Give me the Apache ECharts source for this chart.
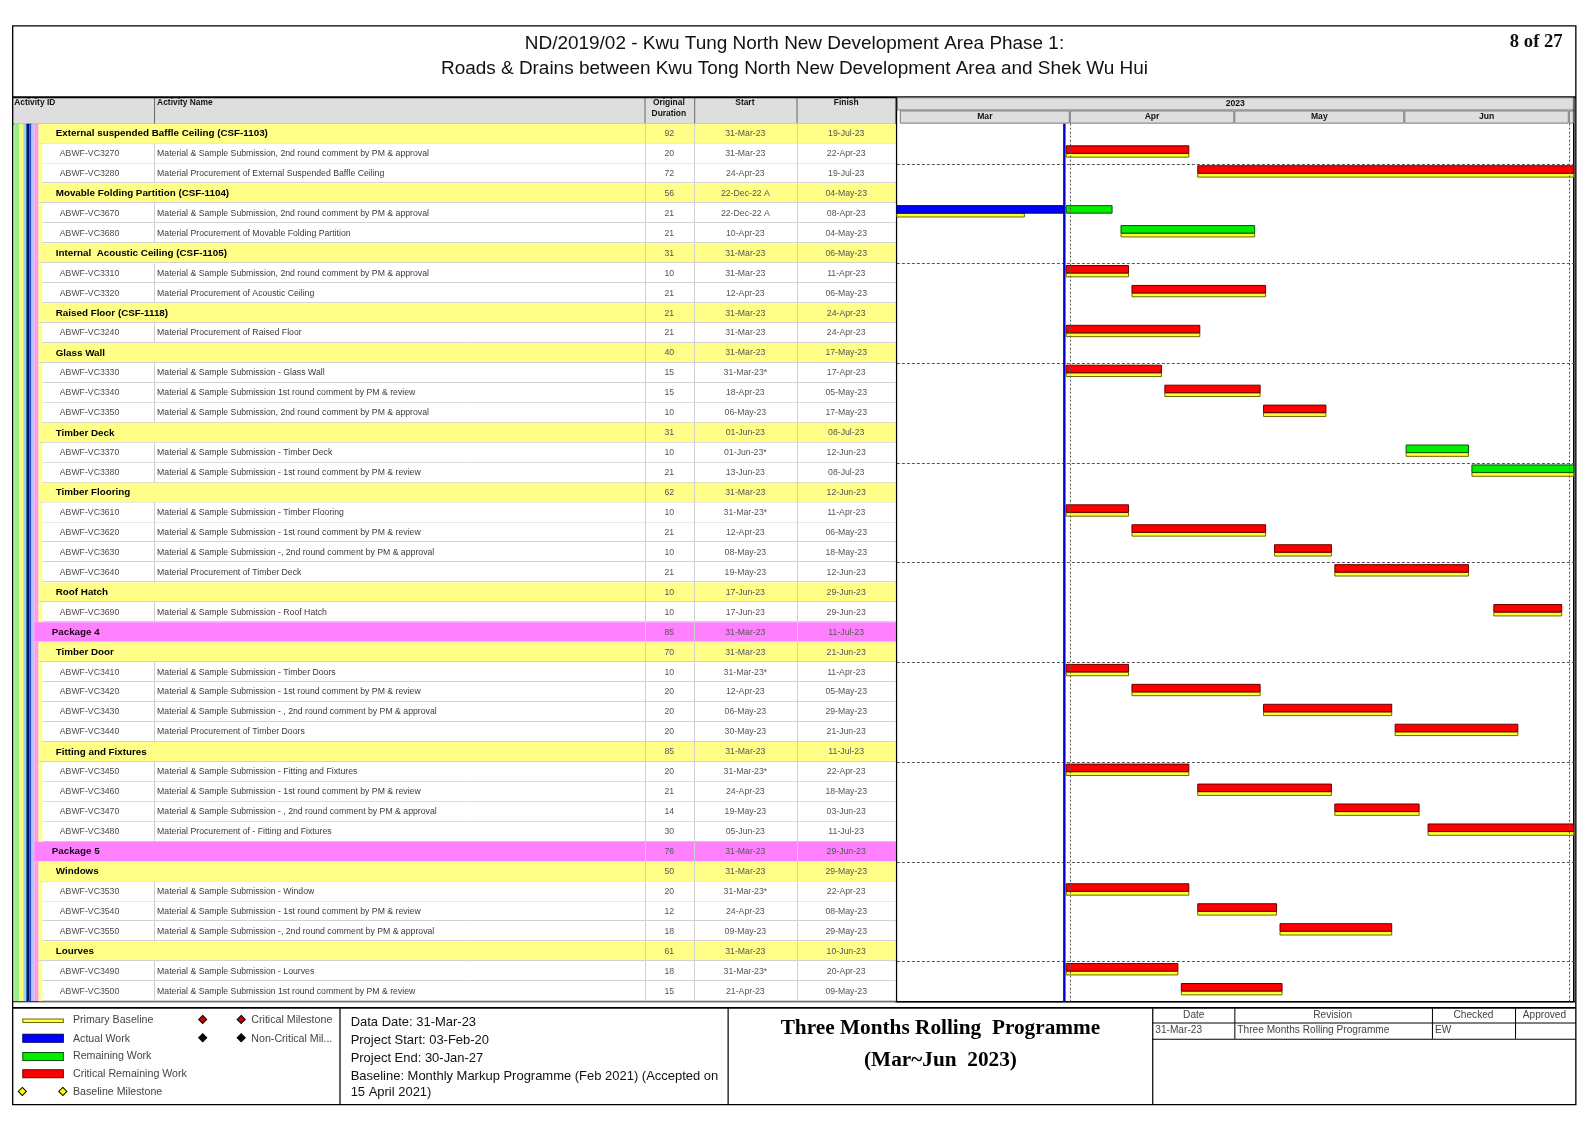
<!DOCTYPE html>
<html><head><meta charset="utf-8">
<script src="https://cdn.jsdelivr.net/npm/echarts@6/dist/echarts.min.js"></script>
<style>html,body{margin:0;padding:0;background:#fff}#c{width:1588px;height:1123px}</style>
</head><body><div id="c"></div>
<script>
// ---------------- DATA ----------------
const rowType = ['G','A','A','G','A','A','G','A','A','G','A','G','A','A','A','G','A','A','G','A','A','A','A','G','A','P','G','A','A','A','A','G','A','A','A','A','P','G','A','A','A','G','A','A'];
const actId = ['','ABWF-VC3270','ABWF-VC3280','','ABWF-VC3670','ABWF-VC3680','','ABWF-VC3310','ABWF-VC3320','','ABWF-VC3240','','ABWF-VC3330','ABWF-VC3340','ABWF-VC3350','','ABWF-VC3370','ABWF-VC3380','','ABWF-VC3610','ABWF-VC3620','ABWF-VC3630','ABWF-VC3640','','ABWF-VC3690','','','ABWF-VC3410','ABWF-VC3420','ABWF-VC3430','ABWF-VC3440','','ABWF-VC3450','ABWF-VC3460','ABWF-VC3470','ABWF-VC3480','','','ABWF-VC3530','ABWF-VC3540','ABWF-VC3550','','ABWF-VC3490','ABWF-VC3500'];
const actName = [
 'External suspended Baffle Ceiling (CSF-1103)',
 'Material & Sample Submission, 2nd round comment by PM & approval',
 'Material Procurement of External Suspended Baffle Ceiling',
 'Movable Folding Partition (CSF-1104)',
 'Material & Sample Submission, 2nd round comment by PM & approval',
 'Material Procurement of Movable Folding Partition',
 'Internal  Acoustic Ceiling (CSF-1105)',
 'Material & Sample Submission, 2nd round comment by PM & approval',
 'Material Procurement of Acoustic Ceiling',
 'Raised Floor (CSF-1118)',
 'Material Procurement of Raised Floor',
 'Glass Wall',
 'Material & Sample Submission - Glass Wall',
 'Material & Sample Submission 1st round comment by PM & review',
 'Material & Sample Submission, 2nd round comment by PM & approval',
 'Timber Deck',
 'Material & Sample Submission - Timber Deck',
 'Material & Sample Submission - 1st round comment by PM & review',
 'Timber Flooring',
 'Material & Sample Submission - Timber Flooring',
 'Material & Sample Submission - 1st round comment by PM & review',
 'Material & Sample Submission -, 2nd round comment by PM & approval',
 'Material Procurement of Timber Deck',
 'Roof Hatch',
 'Material & Sample Submission - Roof Hatch',
 'Package 4',
 'Timber Door',
 'Material & Sample Submission - Timber Doors',
 'Material & Sample Submission - 1st round comment by PM & review',
 'Material & Sample Submission - , 2nd round comment by PM & approval',
 'Material Procurement of Timber Doors',
 'Fitting and Fixtures',
 'Material & Sample Submission - Fitting and Fixtures',
 'Material & Sample Submission - 1st round comment by PM & review',
 'Material & Sample Submission - , 2nd round comment by PM & approval',
 'Material Procurement of - Fitting and Fixtures',
 'Package 5',
 'Windows',
 'Material & Sample Submission - Window',
 'Material & Sample Submission - 1st round comment by PM & review',
 'Material & Sample Submission -, 2nd round comment by PM & approval',
 'Lourves',
 'Material & Sample Submission - Lourves',
 'Material & Sample Submission 1st round comment by PM & review'
];
const origDur = [92,20,72,56,21,21,31,10,21,21,21,40,15,15,10,31,10,21,62,10,21,10,21,10,10,85,70,10,20,20,20,85,20,21,14,30,76,50,20,12,18,61,18,15];
const startText = ['31-Mar-23','31-Mar-23','24-Apr-23','22-Dec-22 A','22-Dec-22 A','10-Apr-23','31-Mar-23','31-Mar-23','12-Apr-23','31-Mar-23','31-Mar-23','31-Mar-23','31-Mar-23*','18-Apr-23','06-May-23','01-Jun-23','01-Jun-23*','13-Jun-23','31-Mar-23','31-Mar-23*','12-Apr-23','08-May-23','19-May-23','17-Jun-23','17-Jun-23','31-Mar-23','31-Mar-23','31-Mar-23*','12-Apr-23','06-May-23','30-May-23','31-Mar-23','31-Mar-23*','24-Apr-23','19-May-23','05-Jun-23','31-Mar-23','31-Mar-23','31-Mar-23*','24-Apr-23','09-May-23','31-Mar-23','31-Mar-23*','21-Apr-23'];
const finishText = ['19-Jul-23','22-Apr-23','19-Jul-23','04-May-23','08-Apr-23','04-May-23','06-May-23','11-Apr-23','06-May-23','24-Apr-23','24-Apr-23','17-May-23','17-Apr-23','05-May-23','17-May-23','08-Jul-23','12-Jun-23','08-Jul-23','12-Jun-23','11-Apr-23','06-May-23','18-May-23','12-Jun-23','29-Jun-23','29-Jun-23','11-Jul-23','21-Jun-23','11-Apr-23','05-May-23','29-May-23','21-Jun-23','11-Jul-23','22-Apr-23','18-May-23','03-Jun-23','11-Jul-23','29-Jun-23','29-May-23','22-Apr-23','08-May-23','29-May-23','10-Jun-23','20-Apr-23','09-May-23'];
// C = critical remaining, R = remaining (non-critical)
const barKind = ['','C','C','','R','R','','C','C','','C','','C','C','C','','R','R','','C','C','C','C','','C','','','C','C','C','C','','C','C','C','C','','','C','C','C','','C','C'];
const blStart = ['','31-Mar-23','24-Apr-23','','20-Dec-22','10-Apr-23','','31-Mar-23','12-Apr-23','','31-Mar-23','','31-Mar-23','18-Apr-23','06-May-23','','01-Jun-23','13-Jun-23','','31-Mar-23','12-Apr-23','08-May-23','19-May-23','','17-Jun-23','','','31-Mar-23','12-Apr-23','06-May-23','30-May-23','','31-Mar-23','24-Apr-23','19-May-23','05-Jun-23','','','31-Mar-23','24-Apr-23','09-May-23','','31-Mar-23','21-Apr-23'];
const blFinish = ['','22-Apr-23','19-Jul-23','','23-Mar-23','04-May-23','','11-Apr-23','06-May-23','','24-Apr-23','','17-Apr-23','05-May-23','17-May-23','','12-Jun-23','08-Jul-23','','11-Apr-23','06-May-23','18-May-23','12-Jun-23','','29-Jun-23','','','11-Apr-23','05-May-23','29-May-23','21-Jun-23','','22-Apr-23','18-May-23','03-Jun-23','11-Jul-23','','','22-Apr-23','08-May-23','29-May-23','','20-Apr-23','09-May-23'];
const monthLabels = ['Mar','Apr','May','Jun','Jul'];
const yearLabel = '2023';
const dataDateText = '31-Mar-23';
const sightRows = [2,7,12,17,22,27,32,37,42];
const quarterLines = ['01-Apr-23','01-Jul-23'];

// ---------------- HELPERS ----------------
const S = 1588/1567; // layout scale
const MON = {Jan:0,Feb:1,Mar:2,Apr:3,May:4,Jun:5,Jul:6,Aug:7,Sep:8,Oct:9,Nov:10,Dec:11};
function parseD(s, h){ const m = s.match(/(\d\d)-(\w{3})-(\d\d)/); return new Date(2000 + (+m[3]), MON[m[2]], +m[1], h || 0).getTime(); }
const dataDate = parseD(dataDateText, 0);
const tMin = new Date(2023,1,28,11).getTime();
const tMax = new Date(2023,6,1,22).getTime();
const HOUR = 3600000;

const baselineData=[], actualData=[], remData=[], critData=[];
rowType.forEach((t,i)=>{
  if(t!=='A') return;
  baselineData.push([parseD(blStart[i],8), parseD(blFinish[i],17), i]);
  let s;
  if(startText[i].indexOf(' A')>=0){ actualData.push([parseD(startText[i],8), dataDate, i]); s = dataDate + 8*HOUR; }
  else s = parseD(startText[i],8);
  (barKind[i]==='C'?critData:remData).push([s, parseD(finishText[i],17), i]);
});
const headerData = [[tMin, tMax, 0, yearLabel]];
monthLabels.forEach((m,k)=>{ headerData.push([new Date(2023,2+k,1).getTime(), new Date(2023,3+k,1).getTime(), 1, m]); });
const vlineData = quarterLines.map(q=>[parseD(q,0), 0, 0]).concat([[dataDate, 0, 1]]);

const SANS = "'Liberation Sans', Arial, sans-serif";
const NARROW = "'Liberation Sans Narrow', 'Arial Narrow', 'Liberation Sans', sans-serif";
const SERIF = "'Liberation Serif', 'Times New Roman', serif";
const rowCats = rowType.map((t,i)=>String(i));

function barRender(fill, stroke, yOff, h){
  return function(params, api){
    const s = api.coord([api.value(0), api.value(2)]);
    const e = api.coord([api.value(1), api.value(2)]);
    const rh = api.size([0,1])[1];
    const top = s[1] - rh/2;
    const cs = params.coordSys;
    const r = echarts.graphic.clipRectByRect({x:s[0], y:top+yOff*S, width:e[0]-s[0], height:h*S}, {x:cs.x, y:cs.y, width:cs.width, height:cs.height});
    if(!r) return null;
    return {type:'rect', shape:r, style:{fill:fill, stroke:stroke, lineWidth:1}};
  };
}

// table column layout (table-relative units, 0..872)
const COL = {bandA:26, bandG:26, bandP:22, white:30, idText:47, nameLine:140, nameText:143, gText:43, pText:39, dur:[624,673], st:[673,774], fin:[774,872]};

function tableRender(params, api){
  const i = api.value(1);
  const c = api.coord([0, i]);
  const rh = api.size([0,1])[1];
  const top = c[1] - rh/2, mid = c[1];
  const X = v => api.coord([v, i])[0];
  const t = rowType[i];
  const ch = [];
  const rect = (x0,x1,fill)=>({type:'rect', shape:{x:X(x0), y:top, width:X(x1)-X(x0), height:rh}, style:{fill:fill}});
  const vline = (x,col)=>({type:'line', shape:{x1:Math.round(X(x))+0.5, y1:top, x2:Math.round(X(x))+0.5, y2:top+rh}, style:{stroke:col, lineWidth:1}});
  const txt = (x, s, opt)=>({type:'text', x:X(x), y:mid, style:Object.assign({text:s, textVerticalAlign:'middle', fontFamily:SANS, fontSize:8.6*S, fill:'#3a3a3a'}, opt||{})});
  if(t==='A'){
    ch.push(rect(COL.bandA, COL.white, '#ffff88'));
    ch.push(rect(COL.white, 872, '#ffffff'));
    ch.push(vline(COL.nameLine, '#cfcfcf'));
    ch.push(txt(COL.idText, actId[i], {fill:'#4a4a4a'}));
    ch.push(txt(COL.nameText, actName[i]));
  } else if(t==='G'){
    ch.push(rect(COL.bandG, 872, '#ffff88'));
    ch.push(txt(COL.gText, actName[i], {fontWeight:'bold', fontSize:9.7*S, fill:'#000'}));
  } else {
    ch.push(rect(COL.bandP, 872, '#ff80ff'));
    ch.push(txt(COL.pText, actName[i], {fontWeight:'bold', fontSize:9.7*S, fill:'#1a001a'}));
  }
  const x0 = t==='A'?COL.white:(t==='G'?COL.bandG:COL.bandP);
  const yb = Math.round(top+rh)-0.5;
  ch.push({type:'line', shape:{x1:X(x0), y1:yb, x2:X(872), y2:yb}, style:{stroke:'#d2d2d2', lineWidth:1}});
  ch.push(vline(COL.dur[0], '#cfcfcf'));
  ch.push(vline(COL.st[0], '#cfcfcf'));
  ch.push(vline(COL.fin[0], '#cfcfcf'));
  const numCol = '#555';
  ch.push(txt((COL.dur[0]+COL.dur[1])/2, String(origDur[i]), {textAlign:'center', fill:numCol}));
  ch.push(txt((COL.st[0]+COL.st[1])/2, startText[i], {textAlign:'center', fill:numCol}));
  ch.push(txt((COL.fin[0]+COL.fin[1])/2, finishText[i], {textAlign:'center', fill:numCol}));
  return {type:'group', children:ch};
}

function headerRender(params, api){
  const cs = params.coordSys;
  const s = api.coord([api.value(0), api.value(2)]);
  const e = api.coord([api.value(1), api.value(2)]);
  const rh = api.size([0,1])[1];
  const top = s[1]-rh/2;
  const r = echarts.graphic.clipRectByRect({x:s[0], y:top, width:e[0]-s[0], height:rh}, {x:cs.x, y:cs.y, width:cs.width, height:cs.height});
  if(!r) return null;
  const ch = [{type:'rect', shape:{x:r.x+0.5, y:r.y+0.5, width:r.width-1, height:r.height-1}, style:{fill:'#dedede', stroke:'#7a7a7a', lineWidth:1}}];
  const lab = headerData[params.dataIndex][3];
  if(r.width > 20) ch.push({type:'text', x:r.x+r.width/2, y:top+rh/2, style:{text:lab, textAlign:'center', textVerticalAlign:'middle', fontFamily:NARROW, fontWeight:'bold', fontSize:8.5*S, fill:'#111'}});
  return {type:'group', children:ch};
}

function sightRender(params, api){
  const cs = params.coordSys;
  const c = api.coord([api.value(0), api.value(1)]);
  const rh = api.size([0,1])[1];
  const y = Math.round(c[1]-rh/2)+0.5;
  return {type:'line', shape:{x1:cs.x, y1:y, x2:cs.x+cs.width, y2:y}, style:{stroke:'#555', lineWidth:1, lineDash:[3,2]}};
}
function vlineRender(params, api){
  const cs = params.coordSys;
  const x = api.coord([api.value(0), api.value(1)])[0];
  if(api.value(2)===1) return {type:'line', shape:{x1:x, y1:cs.y, x2:x, y2:cs.y+cs.height}, style:{stroke:'#0000cc', lineWidth:2.4}};
  const xx = Math.round(x)+0.5;
  return {type:'line', shape:{x1:xx, y1:cs.y, x2:xx, y2:cs.y+cs.height}, style:{stroke:'#555', lineWidth:1, lineDash:[2,2]}};
}

// ---------------- DECORATION (drawn in a scaled group) ----------------
const G = [];
function gRect(x,y,w,h,fill,stroke,lw){ G.push({type:'rect', shape:{x:x,y:y,width:w,height:h}, style:{fill:fill||'none', stroke:stroke||null, lineWidth:lw||1}, silent:true}); }
function gLine(x1,y1,x2,y2,col,lw){ G.push({type:'line', shape:{x1:x1,y1:y1,x2:x2,y2:y2}, style:{stroke:col||'#000', lineWidth:lw||1}, silent:true}); }
function gText(x,y,s,opt){ G.push({type:'text', x:x, y:y, style:Object.assign({text:s, fontFamily:SANS, fontSize:10.5, fill:'#444', textVerticalAlign:'middle'}, opt||{}), silent:true}); }
function gDiamond(cx,cy,r,fill){ G.push({type:'polygon', shape:{points:[[cx,cy-r],[cx+r,cy],[cx,cy+r],[cx-r,cy]]}, style:{fill:fill, stroke:'#000', lineWidth:1}, silent:true}); }

// title
gText(784, 43, 'ND/2019/02 - Kwu Tung North New Development Area Phase 1:', {textAlign:'center', fontSize:18.7, fill:'#111'});
gText(784, 68, 'Roads & Drains between Kwu Tong North New Development Area and Shek Wu Hui', {textAlign:'center', fontSize:18.7, fill:'#111'});
gText(1542, 42, '8 of 27', {textAlign:'right', fontFamily:SERIF, fontWeight:'bold', fontSize:18.4, fill:'#111'});

// table header
gRect(12, 96, 872, 26, '#dedede');
[152,636,685,786].forEach(x=>gLine(x+0.5,96,x+0.5,122,'#6a6a6a',1));
gLine(12,122.5,884,122.5,'#555',1);
const hdr = {fontFamily:NARROW, fontWeight:'bold', fontSize:8.3, fill:'#111', textVerticalAlign:'top'};
gText(14, 97, 'Activity ID', hdr);
gText(155, 97, 'Activity Name', hdr);
gText(660, 97, 'Original', Object.assign({}, hdr, {textAlign:'center'}));
gText(660, 108, 'Duration', Object.assign({}, hdr, {textAlign:'center'}));
gText(735, 97, 'Start', Object.assign({}, hdr, {textAlign:'center'}));
gText(835, 97, 'Finish', Object.assign({}, hdr, {textAlign:'center'}));

// hierarchy colour bands
[[14,5,'#99ee88'],[19,4,'#ffff77'],[23,3,'#88ddff'],[26,3,'#001a66'],[29,2,'#2244cc'],[31,3,'#b8c4ff'],[34,4,'#ff9be6']].forEach(b=>gRect(b[0],122,b[1],866,b[2]));

// frames
gRect(884.5, 96.5, 668.5, 892, 'none', '#000', 1.6);
gLine(12, 96, 1555, 96, '#000', 2);
gLine(12, 988.5, 1555, 988.5, '#000', 1.2);
gRect(12.5, 25.5, 1542.5, 1064.5, 'none', '#000', 1.3);
gLine(12, 994.5, 1555, 994.5, '#000', 1.6);

// legend panel
gLine(335.5,995,335.5,1090,'#000',1.2);
gLine(718.5,995,718.5,1090,'#000',1.2);
gLine(1137.5,995,1137.5,1090,'#000',1.2);
gRect(22.5,1005.5,40,3.5,'#ffff44','#6b6b00',1);
gRect(22.5,1020.5,40,8,'#0000ff','#000060',1);
gRect(22.5,1038.5,40,8,'#00ee00','#005500',1);
gRect(22.5,1055.5,40,8,'#ff0000','#660000',1);
gDiamond(22,1077,4,'#ffff00'); gDiamond(62,1077,4,'#ffff00');
gDiamond(200,1006,4,'#cc0000'); gDiamond(238,1006,4,'#cc0000');
gDiamond(200,1024,4,'#000'); gDiamond(238,1024,4,'#000');
gText(72,1007,'Primary Baseline');
gText(72,1025,'Actual Work');
gText(72,1042,'Remaining Work');
gText(72,1060,'Critical Remaining Work');
gText(72,1078,'Baseline Milestone');
gText(248,1007,'Critical Milestone');
gText(248,1025,'Non-Critical Mil...');
const dd = {fontSize:12.8, fill:'#111'};
gText(346,1009,'Data Date: 31-Mar-23',dd);
gText(346,1027,'Project Start: 03-Feb-20',dd);
gText(346,1044,'Project End: 30-Jan-27',dd);
gText(346,1062,'Baseline: Monthly Markup Programme (Feb 2021) (Accepted on',dd);
gText(346,1078,'15 April 2021)',dd);
gText(928,1015,'Three Months Rolling  Programme',{textAlign:'center', fontFamily:SERIF, fontWeight:'bold', fontSize:21, fill:'#000'});
gText(928,1046,'(Mar~Jun  2023)',{textAlign:'center', fontFamily:SERIF, fontWeight:'bold', fontSize:21, fill:'#000'});
// revision table
gLine(1137,1009.5,1555,1009.5,'#000',1);
gLine(1137,1025.5,1555,1025.5,'#000',1);
[1218,1413,1495].forEach(x=>gLine(x+0.5,995,x+0.5,1025,'#000',1));
const rv = {fontSize:10, fill:'#444', textAlign:'center'};
gText(1178,1002,'Date',rv); gText(1315,1002,'Revision',rv); gText(1454,1002,'Checked',rv); gText(1524,1002,'Approved',rv);
gText(1140,1017,'31-Mar-23',{fontSize:10, fill:'#444'});
gText(1221,1017,'Three Months Rolling Programme',{fontSize:10, fill:'#444'});
gText(1416,1017,'EW',{fontSize:10, fill:'#444'});

// ---------------- CHART ----------------
const chart = echarts.init(document.getElementById('c'));
const hidden = {show:false};
const g = (l,t,w,h)=>({left:l*S, top:t*S, width:w*S, height:h*S});
const opt = {
  animation:false,
  backgroundColor:'#fff',
  grid:[ g(12,122,872,866), g(885,122,668,866), g(885,96,668,26) ],
  xAxis:[
    {gridIndex:0, type:'value', min:0, max:872, show:false},
    {gridIndex:1, type:'time', min:tMin, max:tMax, show:false, splitLine:hidden},
    {gridIndex:2, type:'time', min:tMin, max:tMax, show:false, splitLine:hidden}
  ],
  yAxis:[
    {gridIndex:0, type:'category', data:rowCats, inverse:true, show:false},
    {gridIndex:1, type:'category', data:rowCats, inverse:true, show:false},
    {gridIndex:2, type:'category', data:['year','month'], inverse:true, show:false}
  ],
  series:[
    {type:'custom', xAxisIndex:0, yAxisIndex:0, silent:true, clip:false, renderItem:tableRender, data:rowType.map((t,i)=>[0,i]), encode:{x:0,y:1}, z:1},
    {type:'custom', xAxisIndex:2, yAxisIndex:2, silent:true, renderItem:headerRender, data:headerData, encode:{x:[0,1], y:2}, z:1},
    {type:'custom', xAxisIndex:1, yAxisIndex:1, silent:true, renderItem:sightRender, data:sightRows.map(r=>[tMin, r]), encode:{x:0, y:1}, z:1},
    {type:'custom', xAxisIndex:1, yAxisIndex:1, silent:true, renderItem:barRender('#ffff33','#6b6b00',9.8,3.6), data:baselineData, encode:{x:[0,1], y:2}, z:3},
    {type:'custom', xAxisIndex:1, yAxisIndex:1, silent:true, renderItem:barRender('#0000ff','#000060',2.2,7.4), data:actualData, encode:{x:[0,1], y:2}, z:3},
    {type:'custom', xAxisIndex:1, yAxisIndex:1, silent:true, renderItem:barRender('#00ee00','#005500',2.2,7.4), data:remData, encode:{x:[0,1], y:2}, z:3},
    {type:'custom', xAxisIndex:1, yAxisIndex:1, silent:true, renderItem:barRender('#ff0000','#660000',2.2,7.4), data:critData, encode:{x:[0,1], y:2}, z:3},
    {type:'custom', xAxisIndex:1, yAxisIndex:1, silent:true, renderItem:vlineRender, data:vlineData, encode:{x:0, y:1}, z:4}
  ],
  graphic:[{type:'group', scaleX:S, scaleY:S, silent:true, children:G, z:10}]
};
chart.setOption(opt);
</script>
</body></html>
